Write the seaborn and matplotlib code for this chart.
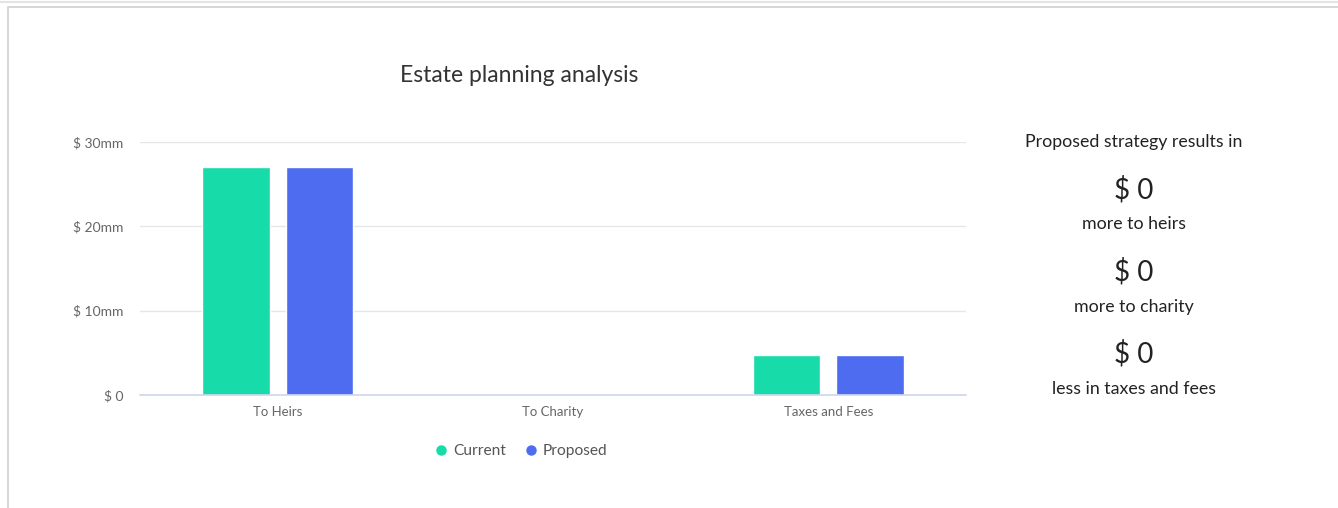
import matplotlib
matplotlib.use("Agg")
import matplotlib.pyplot as plt
import seaborn as sns
import pandas as pd
from matplotlib.lines import Line2D
from matplotlib.patches import Rectangle

categories = ["To Heirs", "To Charity", "Taxes and Fees"]
current = [27.0, 0.0, 4.75]
proposed = [27.0, 0.0, 4.75]
series_names = ["Current", "Proposed"]
ytick_values = [0, 10, 20, 30]
ytick_labels = ["$ 0", "$ 10mm", "$ 20mm", "$ 30mm"]
summary_values = ["$ 0", "$ 0", "$ 0"]
summary_labels = ["more to heirs", "more to charity", "less in taxes and fees"]

colors = ["#17dba8", "#4d6cf0"]

df = pd.DataFrame({
    "category": categories * 2,
    "value": current + proposed,
    "series": [series_names[0]] * 3 + [series_names[1]] * 3,
})

sns.set_style("white")
plt.rcParams["font.family"] = ["Lato", "DejaVu Sans"]

W, H = 1338, 508
fig = plt.figure(figsize=(W / 100, H / 100), dpi=100)

# card frame
fig.patches.append(Rectangle((8 / W, -0.01), 1.1, (H - 7) / H + 0.01, transform=fig.transFigure,
                             fill=False, edgecolor="#d0d0d0", linewidth=1.2, zorder=0))
fig.lines.append(Line2D([0, 1], [1 - 2 / H, 1 - 2 / H], transform=fig.transFigure,
                        color="#e4e4e4", linewidth=1.5))

ax = fig.add_axes([140 / W, (H - 395) / H, (966 - 140) / W, (395 - 142) / H])
sns.barplot(data=df, x="category", y="value", hue="series", palette=colors,
            width=0.604, gap=0.19, ax=ax, legend=False, saturation=1)

ax.set_xlim(-0.5, 2.5)
ax.set_ylim(0, 30)
ax.set_yticks(ytick_values)
ax.set_yticklabels(ytick_labels)
ax.set_xlabel("")
ax.set_ylabel("")
ax.yaxis.grid(True, color="#e6e6e6", linewidth=1)
ax.set_axisbelow(True)
for s in ["top", "right", "left"]:
    ax.spines[s].set_visible(False)
ax.spines["bottom"].set_color("#ccd6eb")
ax.spines["bottom"].set_linewidth(1.2)
ax.tick_params(axis="y", length=0, pad=12, labelsize=10, labelcolor="#666666")
ax.tick_params(axis="x", which="major", length=0, pad=8, labelsize=9.5, labelcolor="#666666")
ax.set_xticks([-0.5, 0.5, 1.5, 2.5], minor=True)
ax.tick_params(axis="x", which="minor", length=10, color="#ccd6eb", width=1.2)

fig.text(519 / W, 1 - 75 / H, "Estate planning analysis", ha="center", va="center",
         fontsize=16.5, color="#333333")

handles = [Line2D([], [], marker="o", linestyle="", markersize=6.5, color=c) for c in colors]
fig.legend(handles, series_names, loc="center", bbox_to_anchor=(521 / W, 1 - 451 / H),
           ncol=2, frameon=False, fontsize=11.2, handlelength=0.8, handletextpad=0.35,
           columnspacing=1.2, labelcolor="#555555")

cx = 1134 / W
fig.text(cx, 1 - 142 / H, "Proposed strategy results in", ha="center", va="center",
         fontsize=12.8, color="#222222")
ys_val = [190, 272, 354]
ys_lab = [224, 307, 389]
for v, l, yv, yl in zip(summary_values, summary_labels, ys_val, ys_lab):
    fig.text(cx, 1 - yv / H, v, ha="center", va="center", fontsize=20, color="#222222")
    fig.text(cx, 1 - yl / H, l, ha="center", va="center", fontsize=12.8, color="#222222")

fig.savefig("out.png", dpi=100, facecolor="white")
